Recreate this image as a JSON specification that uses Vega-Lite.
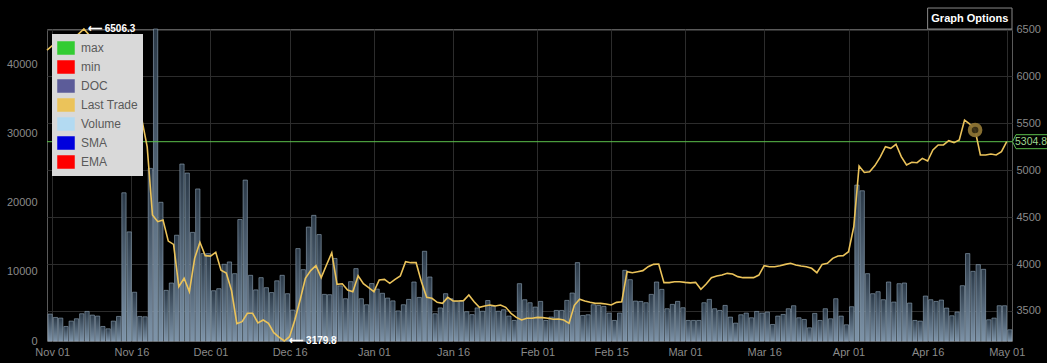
{
"$schema": "https://vega.github.io/schema/vega-lite/v6.json",
"width": 965, "height": 312,
"autosize": {"type": "none"},
"padding": {"left": 47, "top": 29, "right": 35, "bottom": 22},
"background": "#000000",
"config": {
  "view": {"stroke": "#5a5a5a", "strokeWidth": 1},
  "font": "Liberation Sans",
  "axis": {"labelFont": "Liberation Sans", "labelFontSize": 11, "labelColor": "#8a8a8a", "domain": false, "ticks": false, "gridColor": "#2c2c2c", "gridWidth": 1, "title": null}
},
"data": {"values": [
{"d":"2018-10-31","v":3890,"p":6282},
{"d":"2018-11-01","v":3406,"p":6330},
{"d":"2018-11-02","v":3309,"p":6370},
{"d":"2018-11-03","v":2101,"p":6350},
{"d":"2018-11-04","v":2874,"p":6410},
{"d":"2018-11-05","v":3213,"p":6400},
{"d":"2018-11-06","v":3937,"p":6455},
{"d":"2018-11-07","v":4275,"p":6506.3},
{"d":"2018-11-08","v":3744,"p":6442},
{"d":"2018-11-09","v":3599,"p":6420},
{"d":"2018-11-10","v":2101,"p":6371},
{"d":"2018-11-11","v":1763,"p":6354},
{"d":"2018-11-12","v":2874,"p":6354},
{"d":"2018-11-13","v":3551,"p":6318},
{"d":"2018-11-14","v":21425,"p":5760},
{"d":"2018-11-15","v":15773,"p":5510},
{"d":"2018-11-16","v":7050,"p":5536},
{"d":"2018-11-17","v":3550,"p":5493},
{"d":"2018-11-18","v":3500,"p":5540},
{"d":"2018-11-19","v":24950,"p":5250},
{"d":"2018-11-20","v":45100,"p":4523},
{"d":"2018-11-21","v":20050,"p":4452},
{"d":"2018-11-22","v":7319,"p":4470},
{"d":"2018-11-23","v":8380,"p":4245},
{"d":"2018-11-24","v":15290,"p":4210},
{"d":"2018-11-25","v":25580,"p":3759},
{"d":"2018-11-26","v":24275,"p":3848},
{"d":"2018-11-27","v":15700,"p":3706},
{"d":"2018-11-28","v":21980,"p":4061},
{"d":"2018-11-29","v":12634,"p":4232},
{"d":"2018-11-30","v":12634,"p":4090},
{"d":"2018-12-01","v":7270,"p":4085},
{"d":"2018-12-02","v":7560,"p":4125},
{"d":"2018-12-03","v":11087,"p":3935},
{"d":"2018-12-04","v":11425,"p":3905},
{"d":"2018-12-05","v":9734,"p":3715},
{"d":"2018-12-06","v":17560,"p":3364},
{"d":"2018-12-07","v":23261,"p":3386},
{"d":"2018-12-08","v":9493,"p":3475},
{"d":"2018-12-09","v":7390,"p":3475},
{"d":"2018-12-10","v":9155,"p":3372},
{"d":"2018-12-11","v":7705,"p":3404},
{"d":"2018-12-12","v":7000,"p":3368},
{"d":"2018-12-13","v":8700,"p":3268},
{"d":"2018-12-14","v":9493,"p":3222},
{"d":"2018-12-15","v":6836,"p":3179.8},
{"d":"2018-12-16","v":4470,"p":3226},
{"d":"2018-12-17","v":13357,"p":3404},
{"d":"2018-12-18","v":10314,"p":3617},
{"d":"2018-12-19","v":16470,"p":3848},
{"d":"2018-12-20","v":18160,"p":3930},
{"d":"2018-12-21","v":15386,"p":3983},
{"d":"2018-12-22","v":6739,"p":3855},
{"d":"2018-12-23","v":6691,"p":3990},
{"d":"2018-12-24","v":11930,"p":4121},
{"d":"2018-12-25","v":7970,"p":3784},
{"d":"2018-12-26","v":6111,"p":3790},
{"d":"2018-12-27","v":8575,"p":3724},
{"d":"2018-12-28","v":10459,"p":3706},
{"d":"2018-12-29","v":6111,"p":3876},
{"d":"2018-12-30","v":5242,"p":3790},
{"d":"2018-12-31","v":8300,"p":3750},
{"d":"2019-01-01","v":7500,"p":3706},
{"d":"2019-01-02","v":6900,"p":3830},
{"d":"2019-01-03","v":6200,"p":3837},
{"d":"2019-01-04","v":5800,"p":3795},
{"d":"2019-01-05","v":4350,"p":3837},
{"d":"2019-01-06","v":5242,"p":3873},
{"d":"2019-01-07","v":6014,"p":4026},
{"d":"2019-01-08","v":8527,"p":4015},
{"d":"2019-01-09","v":6300,"p":4015},
{"d":"2019-01-10","v":12971,"p":3812},
{"d":"2019-01-11","v":9251,"p":3645},
{"d":"2019-01-12","v":3937,"p":3635},
{"d":"2019-01-13","v":4780,"p":3592},
{"d":"2019-01-14","v":6836,"p":3581},
{"d":"2019-01-15","v":6100,"p":3645},
{"d":"2019-01-16","v":5725,"p":3606},
{"d":"2019-01-17","v":5725,"p":3606},
{"d":"2019-01-18","v":4230,"p":3610},
{"d":"2019-01-19","v":3810,"p":3670},
{"d":"2019-01-20","v":4780,"p":3599},
{"d":"2019-01-21","v":4300,"p":3539},
{"d":"2019-01-22","v":5850,"p":3553},
{"d":"2019-01-23","v":5000,"p":3564},
{"d":"2019-01-24","v":4300,"p":3553},
{"d":"2019-01-25","v":4517,"p":3564},
{"d":"2019-01-26","v":3599,"p":3539},
{"d":"2019-01-27","v":2971,"p":3475},
{"d":"2019-01-28","v":8285,"p":3432},
{"d":"2019-01-29","v":5966,"p":3404},
{"d":"2019-01-30","v":5532,"p":3422},
{"d":"2019-01-31","v":4904,"p":3422},
{"d":"2019-02-01","v":5725,"p":3432},
{"d":"2019-02-02","v":2971,"p":3429},
{"d":"2019-02-03","v":3454,"p":3422},
{"d":"2019-02-04","v":4420,"p":3411},
{"d":"2019-02-05","v":4420,"p":3414},
{"d":"2019-02-06","v":5870,"p":3404},
{"d":"2019-02-07","v":6932,"p":3368},
{"d":"2019-02-08","v":11329,"p":3560},
{"d":"2019-02-09","v":3696,"p":3625},
{"d":"2019-02-10","v":3792,"p":3606},
{"d":"2019-02-11","v":5242,"p":3592},
{"d":"2019-02-12","v":5145,"p":3581},
{"d":"2019-02-13","v":5000,"p":3581},
{"d":"2019-02-14","v":4034,"p":3574},
{"d":"2019-02-15","v":2971,"p":3564},
{"d":"2019-02-16","v":4034,"p":3592},
{"d":"2019-02-17","v":10217,"p":3599},
{"d":"2019-02-18","v":8865,"p":3919},
{"d":"2019-02-19","v":5773,"p":3908},
{"d":"2019-02-20","v":5725,"p":3919},
{"d":"2019-02-21","v":5532,"p":3930},
{"d":"2019-02-22","v":6739,"p":3972},
{"d":"2019-02-23","v":8527,"p":3997},
{"d":"2019-02-24","v":7463,"p":4001},
{"d":"2019-02-25","v":4662,"p":3802},
{"d":"2019-02-26","v":5290,"p":3802},
{"d":"2019-02-27","v":5725,"p":3812},
{"d":"2019-02-28","v":4807,"p":3812},
{"d":"2019-03-01","v":2971,"p":3805},
{"d":"2019-03-02","v":2971,"p":3800},
{"d":"2019-03-03","v":2971,"p":3805},
{"d":"2019-03-04","v":5531,"p":3731},
{"d":"2019-03-05","v":6014,"p":3787},
{"d":"2019-03-06","v":4662,"p":3855},
{"d":"2019-03-07","v":4420,"p":3873},
{"d":"2019-03-08","v":5145,"p":3883},
{"d":"2019-03-09","v":3454,"p":3901},
{"d":"2019-03-10","v":2585,"p":3894},
{"d":"2019-03-11","v":3792,"p":3866},
{"d":"2019-03-12","v":4034,"p":3855},
{"d":"2019-03-13","v":3357,"p":3855},
{"d":"2019-03-14","v":4275,"p":3855},
{"d":"2019-03-15","v":4034,"p":3883},
{"d":"2019-03-16","v":4179,"p":3983},
{"d":"2019-03-17","v":2391,"p":3972},
{"d":"2019-03-18","v":3599,"p":3972},
{"d":"2019-03-19","v":3841,"p":3983},
{"d":"2019-03-20","v":4662,"p":3997},
{"d":"2019-03-21","v":5097,"p":4008},
{"d":"2019-03-22","v":3357,"p":3990},
{"d":"2019-03-23","v":3116,"p":3979},
{"d":"2019-03-24","v":1908,"p":3972},
{"d":"2019-03-25","v":3986,"p":3955},
{"d":"2019-03-26","v":2971,"p":3908},
{"d":"2019-03-27","v":4662,"p":3997},
{"d":"2019-03-28","v":3213,"p":4008},
{"d":"2019-03-29","v":6111,"p":4061},
{"d":"2019-03-30","v":3599,"p":4086},
{"d":"2019-03-31","v":2343,"p":4090},
{"d":"2019-04-01","v":4952,"p":4132},
{"d":"2019-04-02","v":22536,"p":4400},
{"d":"2019-04-03","v":21715,"p":5045},
{"d":"2019-04-04","v":9734,"p":4977},
{"d":"2019-04-05","v":6836,"p":4985},
{"d":"2019-04-06","v":7126,"p":5050},
{"d":"2019-04-07","v":5966,"p":5140},
{"d":"2019-04-08","v":8527,"p":5252},
{"d":"2019-04-09","v":5628,"p":5234},
{"d":"2019-04-10","v":8285,"p":5277},
{"d":"2019-04-11","v":8382,"p":5145},
{"d":"2019-04-12","v":5483,"p":5056},
{"d":"2019-04-13","v":2971,"p":5085},
{"d":"2019-04-14","v":2874,"p":5081},
{"d":"2019-04-15","v":6498,"p":5127},
{"d":"2019-04-16","v":5966,"p":5099},
{"d":"2019-04-17","v":5725,"p":5216},
{"d":"2019-04-18","v":5918,"p":5270},
{"d":"2019-04-19","v":4758,"p":5270},
{"d":"2019-04-20","v":3647,"p":5316},
{"d":"2019-04-21","v":4179,"p":5295},
{"d":"2019-04-22","v":7995,"p":5323},
{"d":"2019-04-23","v":12633,"p":5536},
{"d":"2019-04-24","v":10072,"p":5493},
{"d":"2019-04-25","v":11039,"p":5429},
{"d":"2019-04-26","v":10362,"p":5163},
{"d":"2019-04-27","v":3068,"p":5163},
{"d":"2019-04-28","v":3309,"p":5174},
{"d":"2019-04-29","v":5097,"p":5163},
{"d":"2019-04-30","v":5097,"p":5198},
{"d":"2019-05-01","v":1618,"p":5304.8}
]},
"layer": [
  {
    "mark": {"type": "bar", "color": {"gradient": "linear", "x1": 0, "y1": 1, "x2": 0, "y2": 0, "stops": [{"offset": 0, "color": "#7e94a9"}, {"offset": 1, "color": "#2a3846"}]}, "stroke": "#93a8bb", "strokeOpacity": 0.6, "strokeWidth": 1},
    "encoding": {
      "x": {"field": "d", "timeUnit": "utcyearmonthdate", "type": "temporal",
        "scale": {"type": "utc", "domain": [{"year": 2018, "month": 10, "date": 31, "utc": true}, {"year": 2019, "month": 5, "date": 2, "utc": true}]},
        "axis": {"grid": true, "labelPadding": 5, "labelExpr": "utcFormat(datum.value, '%b %d')",
          "values": [{"year":2018,"month":11,"date":1,"utc":true},{"year":2018,"month":11,"date":16,"utc":true},{"year":2018,"month":12,"date":1,"utc":true},{"year":2018,"month":12,"date":16,"utc":true},{"year":2019,"month":1,"date":1,"utc":true},{"year":2019,"month":1,"date":16,"utc":true},{"year":2019,"month":2,"date":1,"utc":true},{"year":2019,"month":2,"date":15,"utc":true},{"year":2019,"month":3,"date":1,"utc":true},{"year":2019,"month":3,"date":16,"utc":true},{"year":2019,"month":4,"date":1,"utc":true},{"year":2019,"month":4,"date":16,"utc":true},{"year":2019,"month":5,"date":1,"utc":true}]}},
      "y": {"field": "v", "type": "quantitative", "scale": {"domain": [0, 45100], "nice": false},
        "axis": {"orient": "left", "format": "d", "values": [0, 10000, 20000, 30000, 40000], "grid": false, "labelPadding": 10}}
    }
  },
  {
    "layer": [
      {"data": {"values": [{}]},
       "mark": {"type": "rule", "color": "#5cbf4c", "strokeWidth": 1},
       "encoding": {"y": {"datum": 5304.8, "type": "quantitative"}}},
      {"mark": {"type": "line", "strokeWidth": 1.6},
       "encoding": {
         "x": {"field": "d", "type": "temporal",
           "scale": {"type": "utc", "domain": [{"year": 2018, "month": 10, "date": 31, "utc": true}, {"year": 2019, "month": 5, "date": 2, "utc": true}]},
           "axis": {"grid": true, "labelPadding": 5, "labelExpr": "utcFormat(datum.value, '%b %d')",
             "values": [{"year":2018,"month":11,"date":1,"utc":true},{"year":2018,"month":11,"date":16,"utc":true},{"year":2018,"month":12,"date":1,"utc":true},{"year":2018,"month":12,"date":16,"utc":true},{"year":2019,"month":1,"date":1,"utc":true},{"year":2019,"month":1,"date":16,"utc":true},{"year":2019,"month":2,"date":1,"utc":true},{"year":2019,"month":2,"date":15,"utc":true},{"year":2019,"month":3,"date":1,"utc":true},{"year":2019,"month":3,"date":16,"utc":true},{"year":2019,"month":4,"date":1,"utc":true},{"year":2019,"month":4,"date":16,"utc":true},{"year":2019,"month":5,"date":1,"utc":true}]}},
         "y": {"field": "p", "type": "quantitative", "scale": {"domain": [3179.8, 6506.3], "nice": false, "zero": false},
           "axis": {"orient": "right", "format": "d", "values": [3500, 4000, 4500, 5000, 5500, 6000, 6500], "grid": true, "labelPadding": 4}},
         "color": {"datum": "Last Trade", "type": "nominal",
           "scale": {"domain": ["max", "min", "DOC", "Last Trade", "Volume", "SMA", "EMA"], "range": ["#33cc33", "#ff0000", "#5c5c99", "#ebc35a", "#b3daf2", "#0000dd", "#ff0000"]},
           "legend": {"title": null, "orient": "top-left", "offset": 5, "padding": 5, "fillColor": "#d9d9d9", "labelColor": "#5a5a5a", "labelFont": "Liberation Sans", "labelFontSize": 12, "rowPadding": 1, "labelOffset": 6,
             "symbolType": "M-1,-0.75H1V0.75H-1Z", "symbolSize": 256, "symbolStrokeColor": "#c4c4c4", "symbolStrokeWidth": 1.5,
             "encode": {"symbols": {"update": {"fill": {"scale": "color", "field": "value"}, "stroke": {"value": "#c4c4c4"}, "strokeWidth": {"value": 1.5}, "opacity": {"value": 1}}}}}}
       }},
      {"data": {"values": [{}]},
       "mark": {"type": "point", "shape": "circle", "filled": true, "size": 113, "fill": "#3a3016", "stroke": "#8e7434", "strokeWidth": 4, "opacity": 0.95},
       "encoding": {"x": {"datum": {"year": 2019, "month": 4, "date": 25, "utc": true}, "type": "temporal"}, "y": {"datum": 5429, "type": "quantitative"}}},
      {"data": {"values": [{}]},
       "mark": {"type": "text", "align": "left", "baseline": "middle", "dx": 4, "fontWeight": "bold", "fontSize": 10, "color": "#ffffff"},
       "encoding": {"x": {"datum": {"year": 2018, "month": 11, "date": 7, "utc": true}, "type": "temporal"}, "y": {"datum": 6506.3, "type": "quantitative"}, "text": {"value": "⟵ 6506.3"}}},
      {"data": {"values": [{}]},
       "mark": {"type": "text", "align": "left", "baseline": "middle", "dx": 5, "fontWeight": "bold", "fontSize": 10, "color": "#ffffff"},
       "encoding": {"x": {"datum": {"year": 2018, "month": 12, "date": 15, "utc": true}, "type": "temporal"}, "y": {"datum": 3179.8, "type": "quantitative"}, "text": {"value": "⟵ 3179.8"}}},
      {"data": {"values": [{}]},
       "mark": {"type": "rect", "fill": "#000000", "stroke": "#8a8a8a", "strokeWidth": 1},
       "encoding": {"x": {"datum": {"year": 2019, "month": 4, "date": 16, "utc": true}, "type": "temporal"}, "x2": {"datum": {"year": 2019, "month": 5, "date": 2, "utc": true}}, "y": {"datum": 6730, "type": "quantitative"}, "y2": {"datum": 6506.3}}},
      {"data": {"values": [{}]},
       "mark": {"type": "text", "align": "center", "baseline": "middle", "fontWeight": "bold", "fontSize": 11, "color": "#ffffff"},
       "encoding": {"x": {"datum": {"year": 2019, "month": 4, "date": 24, "utc": true}, "type": "temporal"}, "y": {"datum": 6618, "type": "quantitative"}, "text": {"value": "Graph Options"}}},
      {"data": {"values": [{}]},
       "mark": {"type": "point", "shape": "M-1,0L-0.8,-0.4H1V0.4H-0.8Z", "filled": true, "size": 1225, "fill": "#000000", "stroke": "#5cbf4c", "strokeWidth": 1, "opacity": 1, "xOffset": 18},
       "encoding": {"x": {"datum": {"year": 2019, "month": 5, "date": 2, "utc": true}, "type": "temporal"}, "y": {"datum": 5304.8, "type": "quantitative"}}},
      {"data": {"values": [{}]},
       "mark": {"type": "text", "align": "left", "baseline": "middle", "dx": 3, "fontSize": 10.5, "color": "#9fd88f"},
       "encoding": {"x": {"datum": {"year": 2019, "month": 5, "date": 2, "utc": true}, "type": "temporal"}, "y": {"datum": 5304.8, "type": "quantitative"}, "text": {"value": "5304.8"}}}
    ]
  }
],
"resolve": {"scale": {"y": "independent"}, "axis": {"y": "independent"}}
}
